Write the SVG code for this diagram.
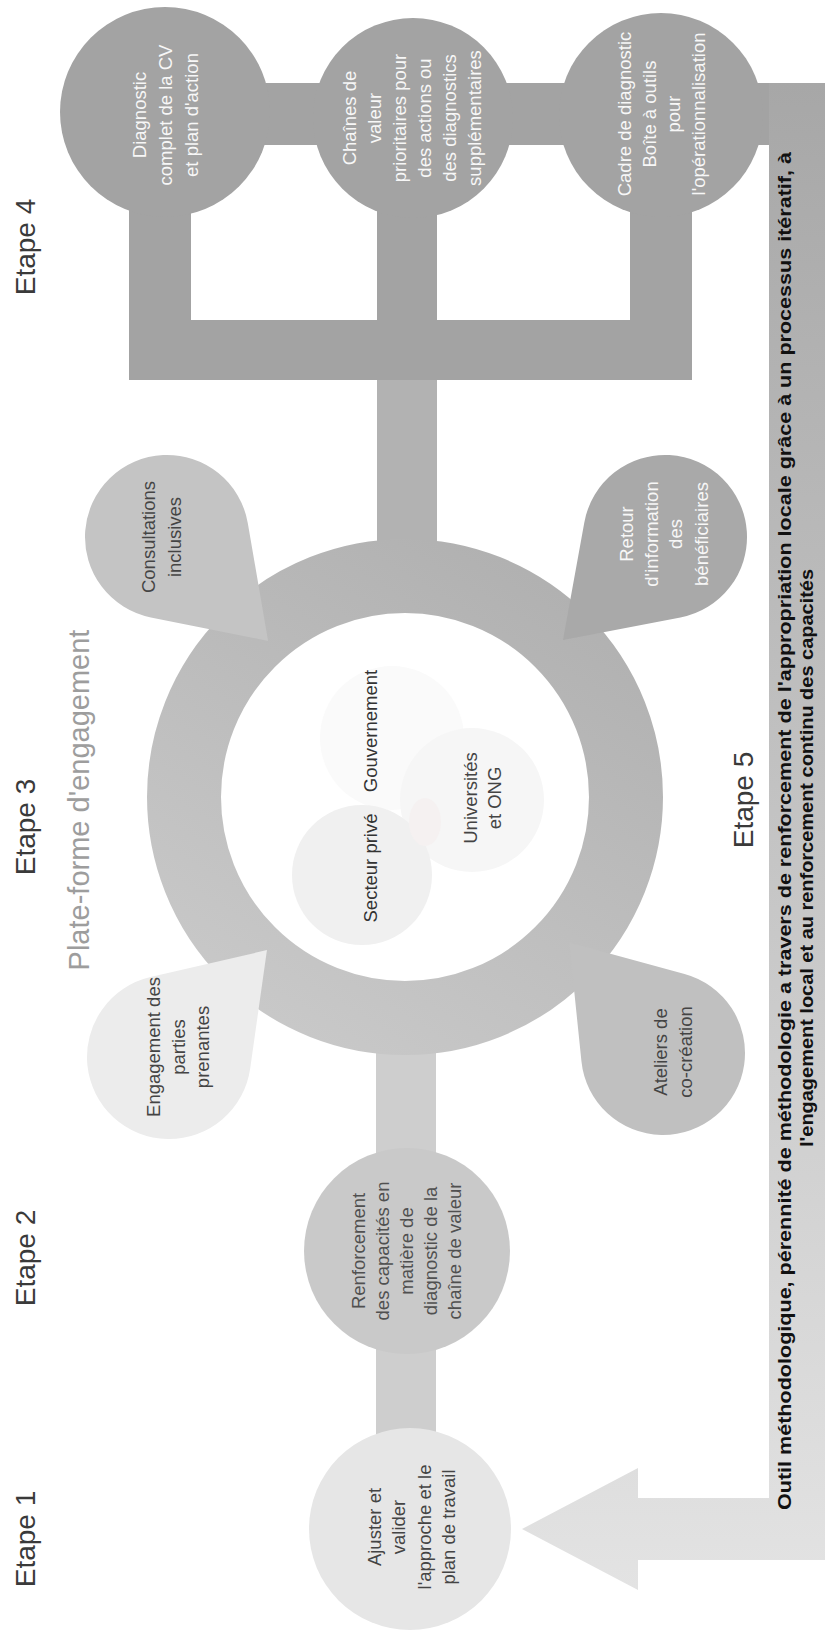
<svg xmlns="http://www.w3.org/2000/svg" width="825" height="1636" viewBox="0 0 825 1636">
<defs>
<style>
.t{font-family:"Liberation Sans",Arial,sans-serif;font-size:18.5px;text-anchor:middle}
.w{fill:#f7f7f7}
.d{fill:#444444}
.step{font-family:"Liberation Sans",Arial,sans-serif;font-size:28px;fill:#3a3a3a;text-anchor:middle}
.bar4{fill:#a3a3a3}
.low{fill:#cecece}
.bold{font-family:"Liberation Sans",Arial,sans-serif;font-size:19px;font-weight:bold;fill:#111111}
</style>
<linearGradient id="ringGrad" gradientUnits="userSpaceOnUse" x1="560" y1="539" x2="250" y2="1055">
<stop offset="0" stop-color="#afafaf"/>
<stop offset="1" stop-color="#cacaca"/>
</linearGradient>
<linearGradient id="loopGrad" gradientUnits="userSpaceOnUse" x1="0" y1="83" x2="0" y2="1590">
<stop offset="0" stop-color="#a7a7a7"/>
<stop offset="0.5" stop-color="#c4c4c4"/>
<stop offset="1" stop-color="#e3e3e3"/>
</linearGradient>
<path id="drop" d="M 46.4 -67.6 L 145 0 L 46.4 67.6 A 82 82 0 1 1 46.4 -67.6 Z"/>
</defs>
<rect width="825" height="1636" fill="#ffffff"/>

<g id="labels">
<text class="step" transform="translate(35,247) rotate(-90)">Etape 4</text>
<text class="step" transform="translate(35,827) rotate(-90)">Etape 3</text>
<text class="step" transform="translate(35,1258) rotate(-90)">Etape 2</text>
<text class="step" transform="translate(35,1539) rotate(-90)">Etape 1</text>
<text class="step" transform="translate(753,800) rotate(-90)">Etape 5</text>
<text transform="translate(89,800) rotate(-90)" font-family="Liberation Sans, Arial, sans-serif" font-size="29" fill="#9d9d9d" text-anchor="middle">Plate-forme d'engagement</text>
</g>

<g id="connectors">
<rect class="bar4" x="260" y="83" width="62" height="62"/>
<rect class="bar4" x="505" y="83" width="62" height="62"/>
<rect class="bar4" x="750" y="83" width="25" height="62"/>
<rect class="bar4" x="129" y="180" width="62" height="200"/>
<rect class="bar4" x="630" y="180" width="62" height="200"/>
<rect class="bar4" x="129" y="320" width="563" height="60"/>
<rect x="377" y="380" width="60" height="175" fill="#b2b2b2"/>
<rect class="bar4" x="377" y="180" width="60" height="200"/>
<rect class="low" x="376" y="1040" width="60" height="115"/>
<rect class="low" x="376" y="1345" width="60" height="92"/>
<path id="loop-arrow" d="M 825 1560 L 638 1560 L 638 1590 L 522 1529 L 638 1468 L 638 1498 L 769 1498 L 769 83 L 825 83 Z" fill="url(#loopGrad)"/>
<text class="bold" transform="translate(791,1510) rotate(-90)" textLength="1358" lengthAdjust="spacingAndGlyphs">Outil méthodologique, pérennité de méthodologie a travers de renforcement de l'appropriation locale grâce à un processus itératif, à</text>
<text class="bold" text-anchor="middle" transform="translate(813,858) rotate(-90)" textLength="578" lengthAdjust="spacingAndGlyphs">l'engagement local et au renforcement continu des capacités</text>
</g>

<g id="ring">
<circle cx="405" cy="797" r="221" fill="none" stroke="url(#ringGrad)" stroke-width="74"/>
</g>

<g id="venn">
<circle cx="392" cy="738" r="72" fill="#fafafa"/>
<circle cx="472" cy="800" r="72" fill="#f6f6f6"/>
<circle cx="362" cy="875" r="70" fill="#f0f0f0"/>
<ellipse cx="425" cy="822" rx="16" ry="24" fill="#f5f1f1"/>
<g transform="translate(377,0) rotate(-90)">
<text class="t" fill="#333333" x="-868" y="0">Secteur privé</text>
<text class="t" fill="#333333" x="-731" y="0">Gouvernement</text>
</g>
<g transform="translate(477,798) rotate(-90)">
<text class="t" fill="#444444" x="0" y="0">Universités</text>
<text class="t" fill="#444444" x="0" y="24">et ONG</text>
</g>
</g>

<g id="bubble-consultations">
<use href="#drop" transform="translate(167,537) rotate(45.8)" fill="#c4c4c4"/>
<g transform="translate(167,537) rotate(-90)">
<text class="t d" y="-12">Consultations</text>
<text class="t d" y="14">inclusives</text>
</g>
</g>

<g id="bubble-retour">
<use href="#drop" transform="translate(665,537) rotate(134.7)" fill="#a9a9a9"/>
<g transform="translate(665,534) rotate(-90)">
<text class="t w" y="-32">Retour</text>
<text class="t w" y="-7">d'information</text>
<text class="t w" y="17">des</text>
<text class="t w" y="43">bénéficiaires</text>
</g>
</g>

<g id="bubble-engagement">
<use href="#drop" transform="translate(169,1057) rotate(-47.5)" fill="#ececec"/>
<g transform="translate(169,1047) rotate(-90)">
<text class="t d" y="-9">Engagement des</text>
<text class="t d" y="16">parties</text>
<text class="t d" y="40">prenantes</text>
</g>
</g>

<g id="bubble-ateliers">
<use href="#drop" transform="translate(663,1053) rotate(-130.3)" fill="#c0c0c0"/>
<g transform="translate(665,1052) rotate(-90)">
<text class="t d" y="2">Ateliers de</text>
<text class="t d" y="27">co-création</text>
</g>
</g>

<g id="node-diagnostic">
<circle cx="165" cy="112" r="105" fill="#a3a3a3"/>
<g transform="translate(166,115) rotate(-90)">
<text class="t w" y="-20">Diagnostic</text>
<text class="t w" y="6">complet de la CV</text>
<text class="t w" y="32">et plan d'action</text>
</g>
</g>

<g id="node-chaines">
<circle cx="413" cy="118" r="100" fill="#a3a3a3"/>
<g transform="translate(413,118) rotate(-90)">
<text class="t w" y="-57">Chaînes de</text>
<text class="t w" y="-32">valeur</text>
<text class="t w" y="-7">prioritaires pour</text>
<text class="t w" y="18">des actions ou</text>
<text class="t w" y="43">des diagnostics</text>
<text class="t w" y="68">supplémentaires</text>
</g>
</g>

<g id="node-cadre">
<circle cx="661" cy="115" r="102" fill="#a3a3a3"/>
<g transform="translate(661,114) rotate(-90)">
<text class="t w" y="-30">Cadre de diagnostic</text>
<text class="t w" y="-5">Boîte à outils</text>
<text class="t w" y="19">pour</text>
<text class="t w" y="44">l'opérationnalisation</text>
</g>
</g>

<g id="node-renforcement">
<circle cx="407" cy="1251" r="103" fill="#c9c9c9"/>
<g transform="translate(407,1251) rotate(-90)">
<text class="t" fill="#505050" y="-42">Renforcement</text>
<text class="t" fill="#505050" y="-18">des capacités en</text>
<text class="t" fill="#505050" y="6">matière de</text>
<text class="t" fill="#505050" y="30">diagnostic de la</text>
<text class="t" fill="#505050" y="54">chaîne de valeur</text>
</g>
</g>

<g id="node-ajuster">
<circle cx="410" cy="1529" r="101" fill="#e6e6e6"/>
<g transform="translate(410,1527) rotate(-90)">
<text class="t d" y="-29">Ajuster et</text>
<text class="t d" y="-5">valider</text>
<text class="t d" y="21">l'approche et le</text>
<text class="t d" y="45">plan de travail</text>
</g>
</g>
</svg>
